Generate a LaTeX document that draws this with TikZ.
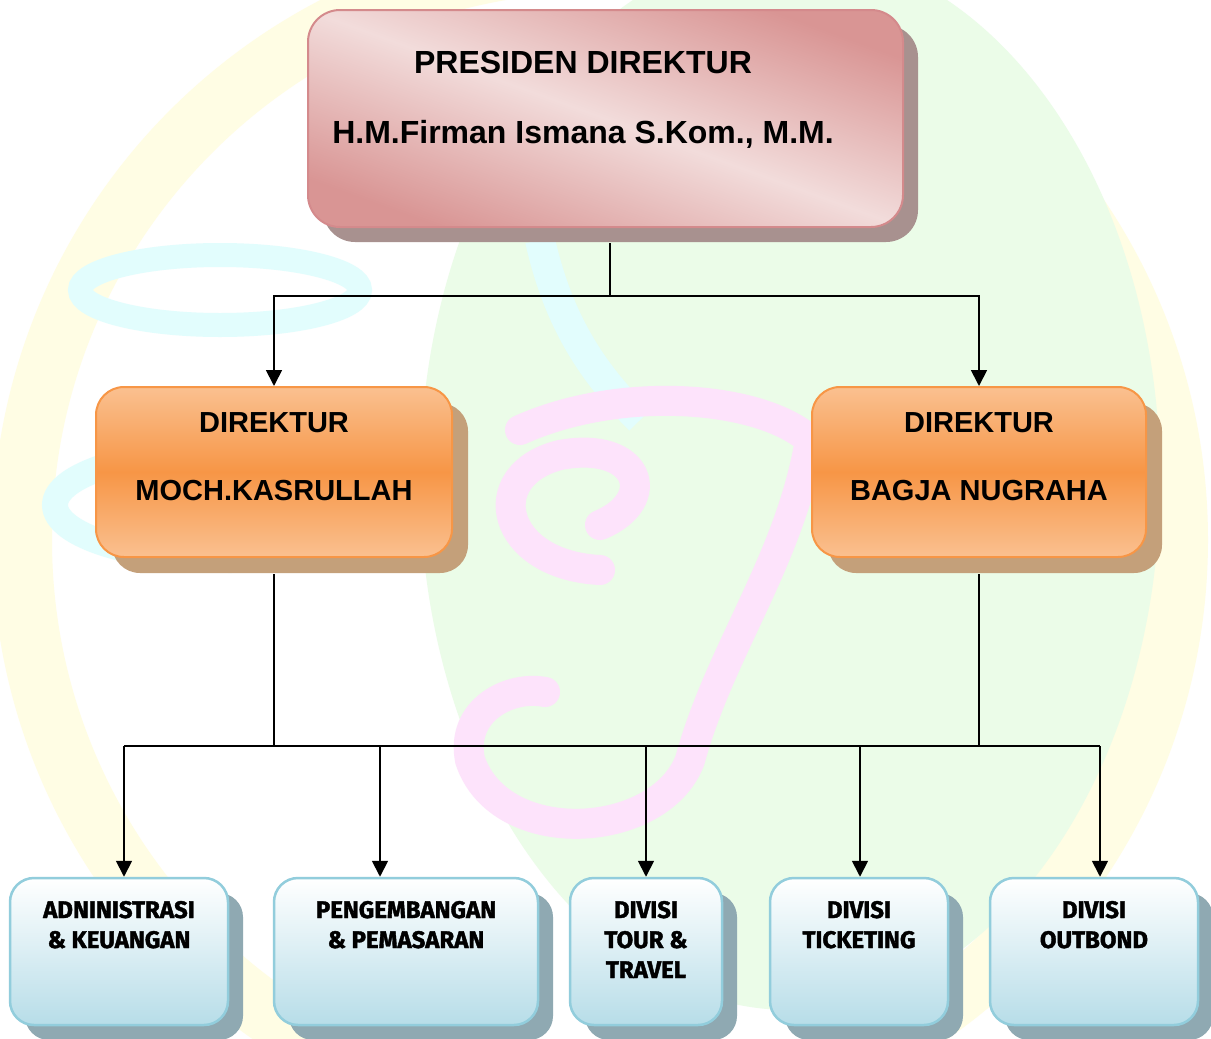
\documentclass[tikz,border=0pt]{standalone}
\usepackage{fontspec}
\setmainfont{Liberation Sans}
\newfontfamily\twcen{Fira Sans}[BoldFeatures={FakeBold=1.6}]
\usetikzlibrary{arrows.meta,shadows}
\definecolor{pinkdark}{HTML}{D99594}
\definecolor{pinklight}{HTML}{F2DCDB}
\definecolor{pinkborder}{HTML}{D48A8C}
\definecolor{pinkshadow}{HTML}{A8918F}
\definecolor{orlight}{HTML}{FAC090}
\definecolor{ormid}{HTML}{F79646}
\definecolor{orborder}{HTML}{F79646}
\definecolor{orshadow}{HTML}{C4A07A}
\definecolor{blbottom}{HTML}{B7DDE8}
\definecolor{blborder}{HTML}{92CDDC}
\definecolor{blshadow}{HTML}{8FA9B2}
\definecolor{wmyellow}{HTML}{FFFDE4}
\definecolor{wmgreen}{HTML}{EBFCE8}
\definecolor{wmcyan}{HTML}{E2FDFD}
\definecolor{wmpink}{HTML}{FDE3FB}
\tikzset{
  presbox/.style={rounded corners=32pt, draw=pinkborder, line width=2pt,
    top color=pinkdark, bottom color=pinkdark, middle color=pinklight, shading angle=-20,
    drop shadow={shadow xshift=15pt, shadow yshift=-15pt, fill=pinkshadow, opacity=1},
    inner sep=0pt},
  dirbox/.style={rounded corners=28pt, draw=orborder, line width=2pt,
    top color=orlight, bottom color=orlight, middle color=ormid,
    drop shadow={shadow xshift=16pt, shadow yshift=-16pt, fill=orshadow, opacity=1},
    inner sep=0pt, minimum height=170pt},
  divbox/.style={rounded corners=24pt, draw=blborder, line width=2.5pt,
    top color=white, bottom color=blbottom,
    drop shadow={shadow xshift=15pt, shadow yshift=-15pt, fill=blshadow, opacity=1},
    inner sep=0pt, minimum height=147pt},
  txtA/.style={font=\fontsize{32}{38}\selectfont\bfseries, inner sep=0pt, anchor=base},
  txtB/.style={font=\fontsize{29}{35}\selectfont\bfseries, inner sep=0pt, anchor=base},
  txtC/.style={font=\twcen\bfseries\fontsize{24}{29}\selectfont, inner sep=0pt, anchor=base},
  conn/.style={line width=1.8pt, black},
  arr/.style={line width=1.8pt, black, -{Triangle[width=16pt,length=16pt]}}
}
\begin{document}
\begin{tikzpicture}[x=1pt,y=-1pt]
\useasboundingbox (0,0) rectangle (1211,1039);
\fill[white] (0,0) rectangle (1211,1039);
% faint watermark
\begin{scope}
\clip (0,0) rectangle (1211,1039);
\fill[wmyellow, even odd rule] (600,540) circle[radius=608] (600,540) circle[radius=548];
\fill[wmgreen] (790,480) ellipse[x radius=370, y radius=530];
\draw[wmcyan, line width=24pt] (220,290) ellipse[x radius=140, y radius=35];
\draw[wmcyan, line width=26pt] (230,505) ellipse[x radius=175, y radius=55];
\draw[wmcyan, line width=30pt] (540,240) .. controls (560,330) and (600,380) .. (640,420);
\draw[wmpink, line width=30pt, line cap=round] (600,525) .. controls (660,500) and (640,440) .. (560,455) .. controls (480,475) and (500,565) .. (600,570);
\draw[wmpink, line width=30pt, line cap=round] (520,430) .. controls (620,385) and (760,395) .. (810,440) .. controls (790,560) and (720,650) .. (690,760) .. controls (660,840) and (500,850) .. (470,760) .. controls (460,710) and (510,685) .. (545,692);
\end{scope}
% nodes
\node[presbox, minimum width=595pt, minimum height=217pt] (pres) at (605.5,118.5) {};
\node[txtA] (presT1) at (583,73) {PRESIDEN DIREKTUR};
\node[txtA] (presT2) at (583,143) {H.M.Firman Ismana S.Kom., M.M.};
\node[dirbox, minimum width=356pt] (dirL) at (274,472) {};
\node[txtB] (dirLT1) at (274,432) {DIREKTUR};
\node[txtB] (dirLT2) at (274,500) {MOCH.KASRULLAH};
\node[dirbox, minimum width=334pt] (dirR) at (979,472) {};
\node[txtB] (dirRT1) at (979,432) {DIREKTUR};
\node[txtB] (dirRT2) at (979,500) {BAGJA NUGRAHA};
\node[divbox, minimum width=218pt] (b1) at (119,951.5) {};
\node[divbox, minimum width=264pt] (b2) at (406,951.5) {};
\node[divbox, minimum width=152pt] (b3) at (646,951.5) {};
\node[divbox, minimum width=178pt] (b4) at (859,951.5) {};
\node[divbox, minimum width=208pt] (b5) at (1094,951.5) {};
\node[txtC] (b1t1) at (119,918) {ADNINISTRASI};
\node[txtC] (b1t2) at (119,948) {\& KEUANGAN};
\node[txtC] (b2t1) at (406,918) {PENGEMBANGAN};
\node[txtC] (b2t2) at (406,948) {\& PEMASARAN};
\node[txtC] (b3t1) at (646,918) {DIVISI};
\node[txtC] (b3t2) at (646,948) {TOUR \&};
\node[txtC] (b3t3) at (646,978) {TRAVEL};
\node[txtC] (b4t1) at (859,918) {DIVISI};
\node[txtC] (b4t2) at (859,948) {TICKETING};
\node[txtC] (b5t1) at (1094,918) {DIVISI};
\node[txtC] (b5t2) at (1094,948) {OUTBOND};
% connectors
\coordinate (pj) at (610,296);
\draw[conn] ([yshift=-15pt]pres.south -| pj) -- (pj);
\draw[arr] (pj) -| (dirL.north);
\draw[arr] (pj) -| (dirR.north);
\coordinate (j1) at (124,746);
\coordinate (j2) at (380,746);
\coordinate (j3) at (646,746);
\coordinate (j4) at (860,746);
\coordinate (j5) at (1100,746);
\draw[conn] ([yshift=-16pt]dirL.south) -- (dirL.south |- j1);
\draw[conn] ([yshift=-16pt]dirR.south) -- (dirR.south |- j1);
\draw[conn] (j1) -- (j5);
\draw[arr] (j1) -- (j1 |- b1.north);
\draw[arr] (j2) -- (j2 |- b2.north);
\draw[arr] (j3) -- (j3 |- b3.north);
\draw[arr] (j4) -- (j4 |- b4.north);
\draw[arr] (j5) -- (j5 |- b5.north);
\end{tikzpicture}
\end{document}
